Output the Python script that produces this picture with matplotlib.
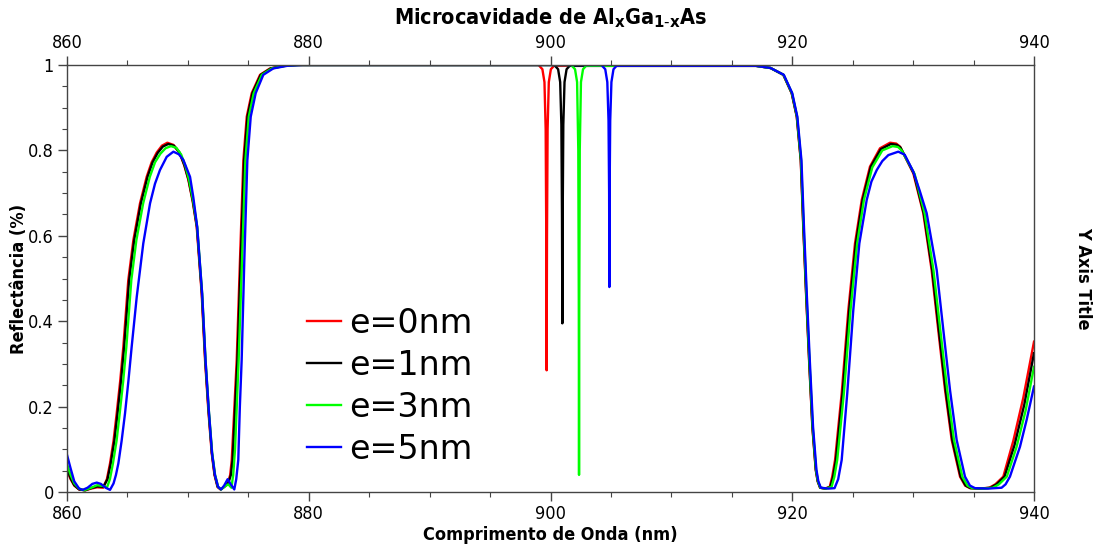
import matplotlib
matplotlib.use("Agg")
import matplotlib.pyplot as plt
from matplotlib.ticker import MultipleLocator, FuncFormatter

# ---------------- data ----------------
labels = ["e=0nm", "e=1nm", "e=3nm", "e=5nm"]
colors = ["#ff0000", "#000000", "#00ff00", "#0000ff"]

red_wl = [860.0, 860.3, 860.6, 861.0, 861.5, 862.0, 862.5, 863.0, 863.3, 863.56, 863.85, 864.11, 864.4, 864.66,
          865.07, 865.49, 866.04, 866.59, 867.0, 867.42, 867.85, 868.3, 868.8, 869.3, 869.7, 870.04, 870.4,
          870.73, 871.14, 871.42, 871.69, 871.97, 872.2, 872.45, 872.7, 873.0, 873.3, 873.5, 873.63, 873.85,
          874.04, 874.31, 874.59, 874.87, 875.28, 875.97, 876.8, 877.9, 879.0,
          899.0, 899.08, 899.33, 899.5, 899.6, 899.65, 899.68, 899.71, 899.76, 899.86, 900.03, 900.28,
          917.0, 918.2, 919.26, 919.95, 920.37, 920.7, 920.91, 921.14, 921.39, 921.66, 921.94, 922.1, 922.3,
          922.7, 923.1, 923.3, 923.54, 924.09, 924.64, 925.19, 925.75, 926.43, 927.26, 928.09, 928.6, 928.91,
          930.02, 930.84, 931.53, 932.08, 932.64, 933.19, 933.88, 934.3, 934.7, 935.5, 936.3, 936.8, 937.46,
          938.29, 939.11, 940.0]
red_R = [0.05, 0.03, 0.015, 0.006, 0.004, 0.008, 0.011, 0.010, 0.03, 0.067, 0.12, 0.184, 0.26, 0.34,
         0.496, 0.59, 0.676, 0.738, 0.772, 0.795, 0.811, 0.818, 0.813, 0.795, 0.765, 0.731, 0.68,
         0.621, 0.465, 0.309, 0.192, 0.091, 0.04, 0.012, 0.006, 0.012, 0.02, 0.04, 0.075, 0.2,
         0.309, 0.543, 0.777, 0.879, 0.934, 0.977, 0.992, 0.998, 1.0,
         1.0, 0.998, 0.99, 0.96, 0.85, 0.6, 0.285, 0.6, 0.85, 0.96, 0.99, 0.998,
         0.998, 0.993, 0.977, 0.934, 0.879, 0.777, 0.621, 0.465, 0.309, 0.153, 0.052, 0.025, 0.01,
         0.008, 0.012, 0.035, 0.075, 0.231, 0.426, 0.582, 0.684, 0.762, 0.805, 0.818, 0.816, 0.809,
         0.746, 0.653, 0.52, 0.379, 0.239, 0.122, 0.036, 0.015, 0.009, 0.008, 0.01, 0.018, 0.036,
         0.12, 0.22, 0.352]

black_wl = [860.0, 860.3, 860.6, 861.0, 861.5, 862.0, 862.5, 863.0, 863.35, 863.62, 863.92, 864.18, 864.47,
            864.73, 865.14, 865.56, 866.11, 866.66, 867.08, 867.5, 867.93, 868.38, 868.85, 869.33, 869.72,
            870.06, 870.42, 870.75, 871.16, 871.44, 871.71, 871.99, 872.22, 872.47, 872.72, 873.05, 873.35,
            873.56, 873.7, 873.91, 874.1, 874.37, 874.65, 874.93, 875.34, 876.03, 876.86, 877.96, 879.0,
            900.3, 900.38, 900.63, 900.8, 900.9, 900.95, 900.98, 901.01, 901.06, 901.16, 901.33, 901.58,
            917.0, 918.2, 919.27, 919.96, 920.38, 920.71, 920.92, 921.15, 921.4, 921.67, 921.95, 922.11,
            922.31, 922.75, 923.15, 923.37, 923.61, 924.16, 924.71, 925.26, 925.82, 926.5, 927.33, 928.16,
            928.65, 928.95, 930.06, 930.88, 931.58, 932.13, 932.69, 933.24, 933.93, 934.35, 934.76, 935.6,
            936.4, 936.9, 937.56, 938.39, 939.2, 940.0]
black_R = [0.055, 0.032, 0.016, 0.006, 0.004, 0.009, 0.013, 0.012, 0.03, 0.067, 0.12, 0.184, 0.26,
           0.34, 0.496, 0.59, 0.676, 0.738, 0.772, 0.794, 0.809, 0.815, 0.811, 0.794, 0.765,
           0.731, 0.68, 0.621, 0.465, 0.309, 0.192, 0.091, 0.04, 0.012, 0.006, 0.013, 0.021,
           0.04, 0.075, 0.2, 0.309, 0.543, 0.777, 0.879, 0.934, 0.977, 0.992, 0.998, 1.0,
           1.0, 0.998, 0.99, 0.96, 0.86, 0.65, 0.395, 0.65, 0.86, 0.96, 0.99, 0.998,
           0.998, 0.993, 0.977, 0.934, 0.879, 0.777, 0.621, 0.465, 0.309, 0.153, 0.052, 0.025,
           0.01, 0.008, 0.012, 0.035, 0.075, 0.231, 0.426, 0.582, 0.684, 0.762, 0.803, 0.815,
           0.813, 0.807, 0.746, 0.653, 0.52, 0.379, 0.239, 0.122, 0.036, 0.015, 0.009, 0.008,
           0.01, 0.018, 0.036, 0.11, 0.205, 0.325]

green_wl = [860.0, 860.3, 860.6, 861.0, 861.4, 862.0, 862.5, 863.0, 863.3, 863.55, 863.8, 864.1, 864.36,
            864.65, 864.91, 865.32, 865.74, 866.3, 866.85, 867.28, 867.72, 868.15, 868.6, 869.05, 869.45,
            869.8, 870.1, 870.45, 870.77, 871.18, 871.46, 871.73, 872.01, 872.25, 872.5, 872.75, 873.1,
            873.35, 873.6, 873.75, 873.9, 874.2, 874.48, 874.76, 875.04, 875.45, 876.12, 876.95, 878.05,
            879.2,
            901.7, 901.78, 902.03, 902.2, 902.3, 902.34, 902.36, 902.38, 902.42, 902.52, 902.69, 902.94,
            917.0, 918.2, 919.28, 919.98, 920.4, 920.73, 920.94, 921.17, 921.42, 921.69, 921.97, 922.13,
            922.33, 922.8, 923.25, 923.48, 923.72, 924.27, 924.82, 925.37, 925.93, 926.62, 927.45, 928.3,
            928.75, 929.05, 930.12, 930.95, 931.68, 932.25, 932.82, 933.38, 934.07, 934.5, 934.9, 935.8,
            936.6, 937.1, 937.75, 938.55, 939.3, 940.0]
green_R = [0.065, 0.04, 0.02, 0.008, 0.004, 0.01, 0.016, 0.014, 0.01, 0.03, 0.067, 0.12, 0.184,
           0.26, 0.34, 0.496, 0.59, 0.676, 0.738, 0.772, 0.792, 0.805, 0.81, 0.806, 0.79,
           0.763, 0.731, 0.68, 0.621, 0.465, 0.309, 0.192, 0.091, 0.04, 0.012, 0.006, 0.014,
           0.018, 0.01, 0.04, 0.1, 0.309, 0.543, 0.777, 0.879, 0.934, 0.977, 0.992, 0.998,
           1.0,
           1.0, 0.998, 0.99, 0.96, 0.8, 0.45, 0.04, 0.45, 0.8, 0.96, 0.99, 0.998,
           0.998, 0.993, 0.977, 0.934, 0.879, 0.777, 0.621, 0.465, 0.309, 0.153, 0.052, 0.025,
           0.01, 0.008, 0.012, 0.035, 0.075, 0.231, 0.426, 0.582, 0.684, 0.76, 0.8, 0.81,
           0.808, 0.8, 0.745, 0.653, 0.52, 0.379, 0.239, 0.122, 0.036, 0.015, 0.009, 0.008,
           0.01, 0.018, 0.036, 0.105, 0.19, 0.293]

blue_wl = [860.0, 860.3, 860.6, 861.0, 861.3, 861.7, 862.1, 862.46, 862.8, 863.2, 863.56, 863.85, 864.05,
           864.25, 864.52, 864.8, 865.08, 865.35, 865.77, 866.31, 866.87, 867.28, 867.69, 868.25, 868.8,
           869.25, 869.62, 870.18, 870.45, 870.77, 871.18, 871.46, 871.73, 872.0, 872.24, 872.5, 872.75,
           873.0, 873.29, 873.55, 873.84, 874.0, 874.17, 874.3, 874.45, 874.67, 874.92, 875.2, 875.61,
           876.24, 877.07, 878.2, 879.5,
           904.2, 904.28, 904.53, 904.7, 904.8, 904.85, 904.87, 904.89, 904.94, 905.04, 905.21, 905.46,
           917.0, 918.2, 919.3, 920.0, 920.42, 920.76, 920.97, 921.2, 921.45, 921.72, 922.0, 922.16,
           922.36, 923.0, 923.5, 923.8, 924.09, 924.55, 925.05, 925.55, 926.16, 926.55, 926.99, 927.45,
           927.95, 928.77, 929.3, 930.02, 930.55, 931.12, 931.95, 932.5, 933.05, 933.6, 934.29, 934.7,
           935.12, 936.2, 937.32, 937.65, 938.01, 938.84, 939.4, 940.0]
blue_R = [0.087, 0.055, 0.025, 0.008, 0.005, 0.01, 0.019, 0.022, 0.019, 0.01, 0.005, 0.02, 0.04,
          0.067, 0.12, 0.184, 0.26, 0.34, 0.457, 0.582, 0.676, 0.722, 0.754, 0.785, 0.797,
          0.791, 0.778, 0.738, 0.69, 0.621, 0.465, 0.309, 0.192, 0.091, 0.04, 0.012, 0.006,
          0.015, 0.03, 0.018, 0.006, 0.03, 0.075, 0.2, 0.309, 0.543, 0.777, 0.879, 0.934,
          0.977, 0.992, 0.998, 1.0,
          1.0, 0.998, 0.99, 0.96, 0.87, 0.7, 0.48, 0.7, 0.87, 0.96, 0.99, 0.998,
          0.998, 0.993, 0.977, 0.934, 0.879, 0.777, 0.621, 0.465, 0.309, 0.153, 0.052, 0.025,
          0.01, 0.008, 0.009, 0.03, 0.075, 0.231, 0.426, 0.582, 0.684, 0.727, 0.754, 0.775,
          0.789, 0.797, 0.79, 0.75, 0.705, 0.653, 0.52, 0.379, 0.239, 0.122, 0.036, 0.015,
          0.009, 0.008, 0.01, 0.018, 0.036, 0.106, 0.17, 0.247]

series_wl = [red_wl, black_wl, green_wl, blue_wl]
series_R = [red_R, black_R, green_R, blue_R]

title_text = r"Microcavidade de Al$_{x}$Ga$_{1\text{-}x}$As"
xlabel_text = "Comprimento de Onda (nm)"
ylabel_text = "Reflectância (%)"
ylabel_right_text = "Y Axis Title"

# ---------------- figure ----------------
plt.rcParams["font.family"] = ["DejaVu Sans"]
plt.rcParams["mathtext.fontset"] = "dejavusans"
plt.rcParams["mathtext.default"] = "bf"

fig = plt.figure(figsize=(10.96, 5.46), dpi=100)
ax = fig.add_axes([67 / 1096, 54 / 546, 967 / 1096, 427 / 546])

for wl, R, c, lab in zip(series_wl, series_R, colors, labels):
    ax.plot(wl, R, color=c, lw=1.7, label=lab)

ax.set_xlim(860, 940)
ax.set_ylim(0, 1)

spine_col = "#444444"
for s in ax.spines.values():
    s.set_color(spine_col)
    s.set_linewidth(1.0)

fmt = FuncFormatter(lambda v, p: "%g" % v)

ax.xaxis.set_major_locator(MultipleLocator(20))
ax.xaxis.set_minor_locator(MultipleLocator(5))
ax.yaxis.set_major_locator(MultipleLocator(0.2))
ax.yaxis.set_minor_locator(MultipleLocator(0.05))
ax.yaxis.set_major_formatter(fmt)

ax.tick_params(which="both", direction="out", color=spine_col, top=True, right=True,
               labeltop=True, labelright=True, labelsize=13, pad=3)
ax.tick_params(which="major", length=6.5, width=1)
ax.tick_params(which="minor", length=3.5, width=0.8)
for t in ax.xaxis.get_major_ticks() + ax.yaxis.get_major_ticks():
    t.label1.set_fontstretch("condensed")
    t.label2.set_fontstretch("condensed")

ax.set_xlabel(xlabel_text, fontsize=13, fontweight="bold", fontstretch="condensed", labelpad=2)
ax.set_ylabel(ylabel_text, fontsize=13, fontweight="bold", fontstretch="condensed", labelpad=0)
ax.set_title(title_text, fontsize=15.5, fontweight="bold", fontstretch="condensed", pad=29)

axr = ax.twinx()
axr.set_ylim(0, 1)
axr.set_yticks([])
axr.set_ylabel(ylabel_right_text, fontsize=13, fontweight="bold", fontstretch="condensed",
               rotation=270, labelpad=42)
for s in axr.spines.values():
    s.set_visible(False)

leg = ax.legend(loc="center", bbox_to_anchor=(0.334, 0.248), frameon=False, fontsize=24,
                handlelength=1.0, handletextpad=0.25, labelspacing=0.27, borderpad=0)

fig.savefig("out.png", dpi=100)
